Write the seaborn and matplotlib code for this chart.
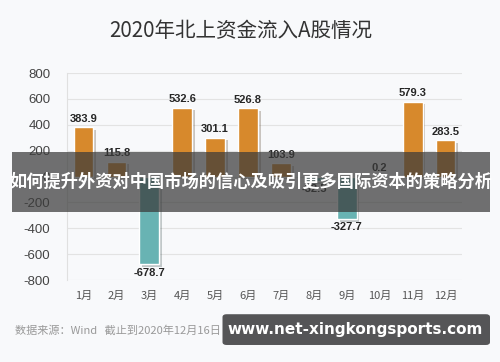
import pandas as pd
import matplotlib.pyplot as plt
import matplotlib.patheffects as pe
from matplotlib.patches import FancyBboxPatch
import seaborn as sns

months = ['1月', '2月', '3月', '4月', '5月', '6月',
          '7月', '8月', '9月', '10月', '11月', '12月']
inflow = [383.9, 115.8, -678.7, 532.6, 301.1, 526.8,
          103.9, -32.5, -327.7, 0.2, 579.3, 283.5]
y_ticks = [800, 600, 400, 200, 0, -200, -400, -600, -800]

df = pd.DataFrame({'month': months, 'inflow': inflow})
df['sign'] = ['in' if v >= 0 else 'out' for v in inflow]

sns.set_style('white')
plt.rcParams['font.family'] = ['Noto Sans CJK SC', 'DejaVu Sans']

bg = '#f8f9fb'
fig = plt.figure(figsize=(5, 3.62), dpi=100, facecolor=bg)
ax = fig.add_axes([0.134, 0.2265, 0.79, 0.5715], facecolor=bg)

sns.barplot(data=df, x='month', y='inflow', hue='sign',
            palette={'in': '#f38b10', 'out': '#5bbfbf'},
            width=0.6, dodge=False, legend=False, ax=ax)

# лёгкая тень под столбиками
for bar in ax.patches:
    bar.set_path_effects([pe.SimplePatchShadow(offset=(2, -2), alpha=0.25),
                          pe.Normal()])

for i, v in enumerate(inflow):
    if v >= 0:
        ax.text(i, v + 25, f'{v}', ha='center', va='bottom',
                fontsize=8, fontweight='bold', family='Liberation Sans')
    else:
        ax.text(i, v - 25, f'{v}', ha='center', va='top',
                fontsize=8, fontweight='bold', family='Liberation Sans')

ax.set_ylim(-800, 800)
ax.set_xlim(-0.5, 11.5)
ax.set_yticks(y_ticks)
ax.set_yticklabels([str(t) for t in y_ticks], family='Liberation Sans')
ax.yaxis.grid(True, color='#e3e3e3', linewidth=0.8)
ax.set_axisbelow(True)
ax.tick_params(axis='y', labelsize=9.5, colors='#444444', length=0, pad=12)
ax.tick_params(axis='x', labelsize=8, colors='#555555', length=0, pad=8)
ax.set_xlabel('')
ax.set_ylabel('')
for s in ['top', 'right', 'bottom']:
    ax.spines[s].set_visible(False)
ax.spines['left'].set_color('#e0e0e0')

fig.text(0.482, 0.915, '2020年北上资金流入A股情况', ha='center', va='center',
         fontsize=14.8, color='#333333')

fig.text(0.03, 0.088, '数据来源：Wind   截止到2020年12月16日',
         ha='left', va='center', fontsize=8, color='#999999')

# полупрозрачная плашка с заголовком поверх графика
fig.patches.append(plt.Rectangle((0.024, 0.414), 0.956, 0.166,
                                 transform=fig.transFigure,
                                 facecolor='#3a3a3a', alpha=0.72,
                                 edgecolor='none'))
fig.text(0.502, 0.497, '如何提升外资对中国市场的信心及吸引更多国际资本的策略分析',
         ha='center', va='center', fontsize=12.4, fontweight='bold',
         color='white')

fig.patches.append(FancyBboxPatch((0.445, 0.047), 0.535, 0.085,
                                  boxstyle='round,pad=0,rounding_size=0.008',
                                  transform=fig.transFigure,
                                  facecolor='#555557', edgecolor='none'))
fig.text(0.71, 0.089, 'www.net-xingkongsports.com', ha='center',
         va='center', fontsize=11, fontweight='bold', color='white',
         family='DejaVu Sans')

fig.savefig('out.png', dpi=100, facecolor=bg)
